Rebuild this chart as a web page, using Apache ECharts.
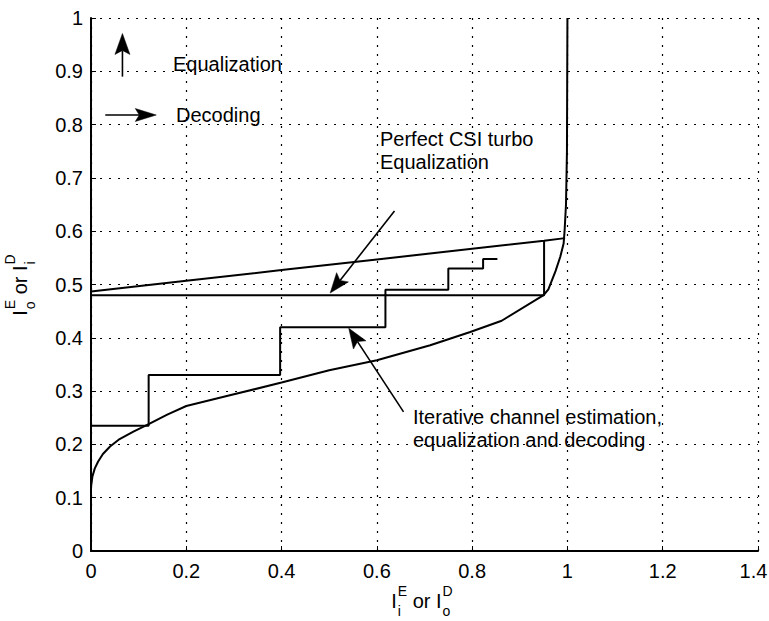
<!DOCTYPE html>
<html><head><meta charset="utf-8">
<script src="https://cdn.jsdelivr.net/npm/echarts@6/dist/echarts.min.js"></script>
<style>html,body{margin:0;padding:0;background:#fff}#c{width:769px;height:621px}</style>
</head><body><div id="c"></div>
<script>
// ---- tick labels ----
const xTickLabels = ['0','0.2','0.4','0.6','0.8','1','1.2','1.4'];
const yTickLabels = ['0','0.1','0.2','0.3','0.4','0.5','0.6','0.7','0.8','0.9','1'];

// ---- decoder transfer curve (inverted axes) ----
const decoderX = [0, 0, 0.003, 0.008, 0.015, 0.025, 0.04, 0.06, 0.089, 0.121, 0.16, 0.2, 0.3, 0.4, 0.5, 0.6, 0.712, 0.796, 0.862, 0.95, 0.96, 0.975, 0.985, 0.992, 0.994, 0.997, 0.999, 1.0];
const decoderY = [0, 0.12, 0.14, 0.155, 0.168, 0.182, 0.196, 0.21, 0.224, 0.238, 0.256, 0.272, 0.294, 0.316, 0.339, 0.358, 0.386, 0.411, 0.432, 0.48, 0.491, 0.525, 0.552, 0.577, 0.6, 0.65, 0.75, 1.0];

// ---- equalizer transfer curve (perfect CSI) ----
const equalizerX = [0, 0.2, 0.4, 0.6, 0.8, 0.951, 0.995];
const equalizerY = [0.487, 0.507, 0.527, 0.547, 0.567, 0.582, 0.587];

// ---- perfect CSI turbo equalization trajectory ----
const perfectX = [0, 0.951, 0.951];
const perfectY = [0.48, 0.48, 0.582];

// ---- iterative channel estimation trajectory ----
const iterX = [0, 0.121, 0.121, 0.397, 0.397, 0.618, 0.618, 0.75, 0.75, 0.823, 0.823, 0.853];
const iterY = [0.235, 0.235, 0.33, 0.33, 0.42, 0.42, 0.49, 0.49, 0.53, 0.53, 0.548, 0.548];

// ---- annotation arrows [from, to] in data units ----
const arrowUp = [[0.066, 0.89], [0.066, 0.971]];
const arrowRight = [[0.030, 0.818], [0.137, 0.818]];
const arrowCSI = [[0.637, 0.638], [0.502, 0.484]];
const arrowIter = [[0.656, 0.261], [0.541, 0.418]];

const FONT = '"Liberation Sans", Arial, Helvetica, sans-serif';
const pairs = (xs, ys) => xs.map((x, i) => [x, ys[i]]);

const ctx = document.createElement('canvas').getContext('2d');
function tw(t, size) { ctx.font = size + 'px ' + FONT; return ctx.measureText(t).width; }

function composeTitle(tokens, cx, cy, rotation) {
  let x = 0; const children = [];
  tokens.forEach(tk => {
    children.push({type: 'text', x: x, y: -7, style: {text: tk.main, font: '20px ' + FONT, fill: '#000', align: 'left', verticalAlign: 'middle'}});
    x += tw(tk.main, 20);
    if (tk.sup || tk.sub) {
      let w = 0;
      if (tk.sup) { children.push({type: 'text', x: x + 1, y: -17, style: {text: tk.sup, font: '14px ' + FONT, fill: '#000', align: 'left', verticalAlign: 'middle'}}); w = Math.max(w, tw(tk.sup, 14)); }
      if (tk.sub) { children.push({type: 'text', x: x + 1, y: 3, style: {text: tk.sub, font: '14px ' + FONT, fill: '#000', align: 'left', verticalAlign: 'middle'}}); w = Math.max(w, tw(tk.sub, 14)); }
      x += w + 1;
    }
  });
  children.forEach(c => { c.x -= x / 2; });
  return {type: 'group', x: cx, y: cy, rotation: rotation, children: children, silent: true};
}

function annot(text, x, y) {
  return {type: 'text', x: x, y: y, silent: true, style: {text: text, font: '20px ' + FONT, fill: '#000', align: 'left', verticalAlign: 'middle'}};
}

const chart = echarts.init(document.getElementById('c'), null, {renderer: 'svg'});
const black = '#000';
const lineSeries = (name, data) => ({
  name: name, type: 'line', data: data, showSymbol: false, symbol: 'none', smooth: false,
  lineStyle: {color: black, width: 2}, silent: true, animation: false, z: 3
});

const staticGraphics = [
  annot('Equalization', 173, 64),
  annot('Decoding', 176, 115),
  annot('Perfect CSI turbo', 380, 139),
  annot('Equalization', 380, 162),
  annot('Iterative channel estimation,', 413, 417),
  annot('equalization and decoding', 413, 440),
  composeTitle([{main: 'I', sup: 'E', sub: 'i'}, {main: ' or '}, {main: 'I', sup: 'D', sub: 'o'}], 422, 608, 0),
  composeTitle([{main: 'I', sup: 'E', sub: 'o'}, {main: ' or '}, {main: 'I', sup: 'D', sub: 'i'}], 27, 285, Math.PI / 2)
];

chart.setOption({
  animation: false,
  backgroundColor: '#fff',
  grid: {left: 91, right: 11, top: 18, bottom: 70, containLabel: false, outerBoundsMode: 'none'},
  xAxis: {
    type: 'value', min: 0, max: 1.4, interval: 0.2,
    axisLine: {show: true, onZero: false, lineStyle: {color: black, width: 2}},
    axisTick: {show: true, inside: true, length: 5, lineStyle: {color: black, width: 1}},
    axisLabel: {color: black, fontSize: 20, fontFamily: FONT, margin: 10,
      formatter: v => {
        const i = Math.round(v / 0.2);
        return i === xTickLabels.length - 1 ? '{r|' + xTickLabels[i] + '}' : xTickLabels[i];
      },
      rich: {r: {color: black, fontSize: 20, fontFamily: FONT, padding: [0, 9, 0, 0]}}},
    splitLine: {show: true, lineStyle: {color: black, width: 1.2, type: [2, 7]}}
  },
  yAxis: {
    type: 'value', min: 0, max: 1, interval: 0.1,
    axisLine: {show: true, onZero: false, lineStyle: {color: black, width: 2}},
    axisTick: {show: true, inside: true, length: 5, lineStyle: {color: black, width: 1}},
    axisLabel: {color: black, fontSize: 20, fontFamily: FONT, margin: 8,
      formatter: v => yTickLabels[Math.round(v / 0.1)]},
    splitLine: {show: true, lineStyle: {color: black, width: 1.2, type: [2, 7]}}
  },
  series: [
    lineSeries('decoder', pairs(decoderX, decoderY)),
    lineSeries('equalizer', pairs(equalizerX, equalizerY)),
    lineSeries('perfect', pairs(perfectX, perfectY)),
    lineSeries('iterative', pairs(iterX, iterY))
  ],
  graphic: staticGraphics
});

// arrows: convert data-unit endpoints through the chart's own scales
function arrowGraphic(a, L, W) {
  const p0 = chart.convertToPixel({gridIndex: 0}, a[0]);
  const p1 = chart.convertToPixel({gridIndex: 0}, a[1]);
  const dx = p1[0] - p0[0], dy = p1[1] - p0[1];
  const len = Math.hypot(dx, dy);
  const ux = dx / len, uy = dy / len, nx = -uy, ny = ux;
  const notch = 4;
  const bx = p1[0] - L * ux, by = p1[1] - L * uy;
  const mx = p1[0] - (L - notch) * ux, my = p1[1] - (L - notch) * uy;
  return [
    {type: 'polyline', silent: true, z: 10, shape: {points: [p0, [mx, my]]}, style: {stroke: black, lineWidth: 1.6, fill: null}},
    {type: 'polygon', silent: true, z: 10, shape: {points: [p1, [bx + W * nx, by + W * ny], [mx, my], [bx - W * nx, by - W * ny]]}, style: {fill: black, stroke: black, lineWidth: 0.5}}
  ];
}
const arrows = [].concat(
  arrowGraphic(arrowUp, 21, 7.5),
  arrowGraphic(arrowRight, 21, 6.5),
  arrowGraphic(arrowCSI, 20, 7.5),
  arrowGraphic(arrowIter, 20, 7.5)
);
chart.setOption({graphic: staticGraphics.concat(arrows)});
</script>
</body></html>
